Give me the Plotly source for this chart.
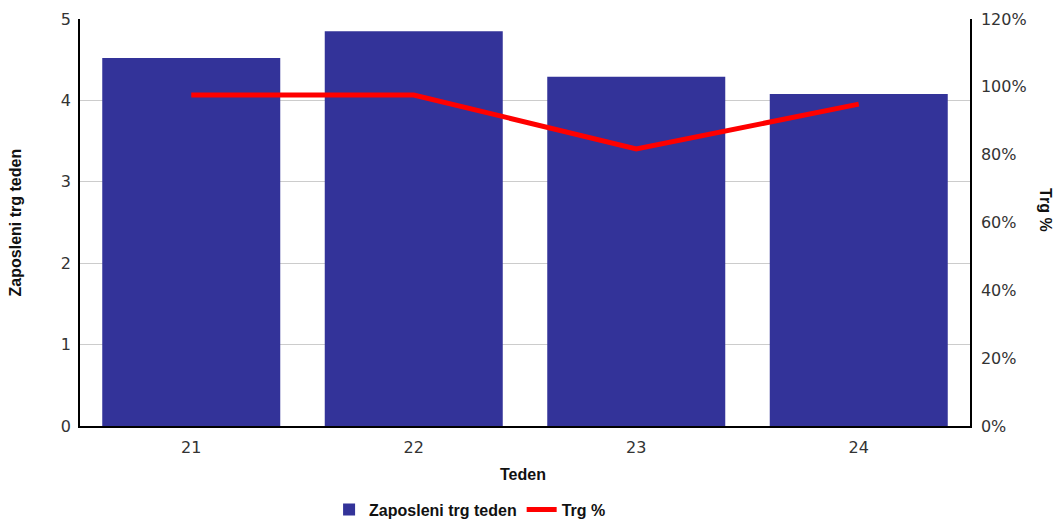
import plotly.graph_objects as go

# Weekly data
weeks = ["21", "22", "23", "24"]
employees = [4.52, 4.85, 4.29, 4.08]
trg_pct = [97.6, 97.6, 81.7, 94.9]

BAR_COLOR = "#333399"
LINE_COLOR = "#ff0000"
TICK_FONT = dict(family="DejaVu Sans", size=16, color="#333333")
BOLD_FONT = dict(family="Liberation Sans Narrow, Arial Narrow, Liberation Sans", size=16, color="#111111")

fig = go.Figure()
fig.add_trace(go.Bar(
    x=weeks, y=employees, name="<b>Zaposleni trg teden</b>",
    marker=dict(color=BAR_COLOR, line=dict(width=0)),
))
fig.add_trace(go.Scatter(
    x=weeks, y=trg_pct, name="<b>Trg %</b>", yaxis="y2",
    mode="lines", line=dict(color=LINE_COLOR, width=5),
))

fig.update_layout(
    width=1054, height=520,
    margin=dict(l=80, r=84, t=19, b=94, autoexpand=False),
    paper_bgcolor="white", plot_bgcolor="white",
    bargap=0.2,
    showlegend=True,
    legend=dict(orientation="h", xref="container", yref="container",
                x=0.446, xanchor="center", y=0.02, yanchor="middle",
                font=BOLD_FONT, itemwidth=30, tracegroupgap=0),
    xaxis=dict(showline=True, linecolor="#000000", linewidth=1.5,
               ticks="outside", ticklen=6, tickcolor="rgba(0,0,0,0)",
               tickfont=TICK_FONT, showgrid=False),
    yaxis=dict(range=[0, 5], dtick=1, showline=True, linecolor="#000000", linewidth=1.5,
               showgrid=True, gridcolor="#cccccc", gridwidth=1, tickfont=TICK_FONT,
               ticks="outside", ticklen=4, tickcolor="rgba(0,0,0,0)", zeroline=False),
    yaxis2=dict(range=[0, 120], dtick=20, overlaying="y", side="right", ticksuffix="%",
                showline=True, linecolor="#000000", linewidth=1.5, showgrid=False,
                tickfont=TICK_FONT, ticks="outside", ticklen=6, tickcolor="rgba(0,0,0,0)",
                zeroline=False),
    annotations=[
        dict(text="<b>Zaposleni trg teden</b>", xref="paper", yref="paper",
             x=-0.072, y=0.5, xanchor="center", yanchor="middle", textangle=-90,
             showarrow=False, font=BOLD_FONT),
        dict(text="<b>Trg %</b>", xref="paper", yref="paper",
             x=1.084, y=0.531, xanchor="center", yanchor="middle", textangle=90,
             showarrow=False, font=BOLD_FONT),
        dict(text="<b>Teden</b>", xref="paper", yref="paper",
             x=0.498, y=-0.12, xanchor="center", yanchor="middle",
             showarrow=False, font=BOLD_FONT),
    ],
)

fig.write_html("out.html")
